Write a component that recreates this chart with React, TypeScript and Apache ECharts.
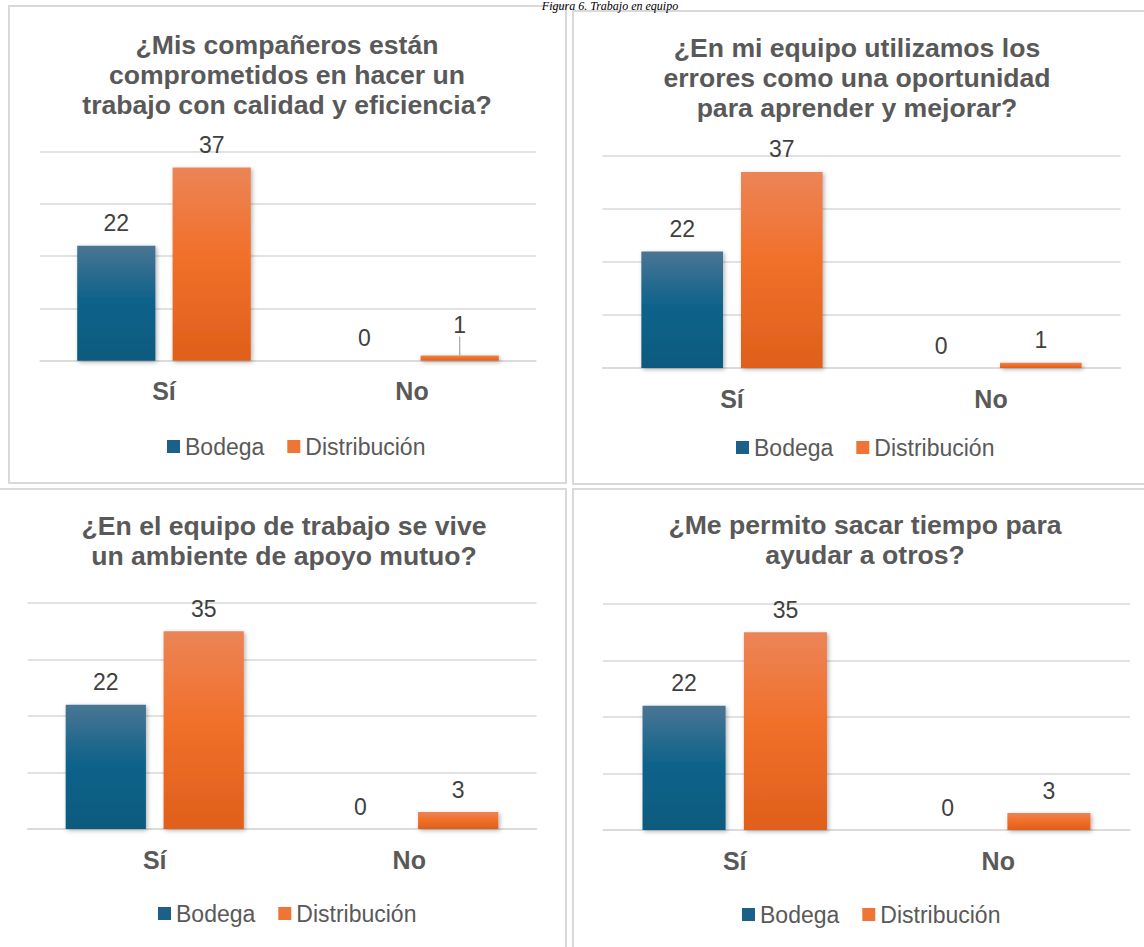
import React, { useEffect, useRef } from "react";
import * as echarts from "echarts";

const categories = ["Sí", "No"];
const seriesNames = ["Bodega", "Distribución"];
const caption = "Figura 6. Trabajo en equipo";

const titles = [
  "¿Mis compañeros están\ncomprometidos en hacer un\ntrabajo con calidad y eficiencia?",
  "¿En mi equipo utilizamos los\nerrores como una oportunidad\npara aprender y mejorar?",
  "¿En el equipo de trabajo se vive\nun ambiente de apoyo mutuo?",
  "¿Me permito sacar tiempo para\nayudar a otros?",
];

const q1Bodega = [22, 0];
const q1Distribucion = [37, 1];
const q2Bodega = [22, 0];
const q2Distribucion = [37, 1];
const q3Bodega = [22, 0];
const q3Distribucion = [35, 3];
const q4Bodega = [22, 0];
const q4Distribucion = [35, 3];

const bodegaValues = [q1Bodega, q2Bodega, q3Bodega, q4Bodega];
const distribucionValues = [q1Distribucion, q2Distribucion, q3Distribucion, q4Distribucion];

const axisMax = 40;
const axisInterval = 10;

// layout (pixels)
const layouts = [
  { grid: { left: 40, top: 151.7, width: 496, height: 209 }, title: { x: 287, y: 30 }, legend: { left: 162, top: 430 }, border: { x: 9, y: 6, w: 557, h: 477 }, leader: true },
  { grid: { left: 602.5, top: 156, width: 518, height: 212 }, title: { x: 857, y: 33 }, legend: { left: 731, top: 431 }, border: { x: 573, y: 11, w: 620, h: 473 }, leader: false },
  { grid: { left: 27.5, top: 603, width: 509, height: 226 }, title: { x: 284, y: 511 }, legend: { left: 153, top: 897 }, border: { x: -20, y: 489, w: 586, h: 520 }, leader: false },
  { grid: { left: 603, top: 604, width: 527, height: 226 }, title: { x: 865, y: 510 }, legend: { left: 737, top: 898 }, border: { x: 573, y: 489, w: 620, h: 520 }, leader: false },
];

const blueGrad = () =>
  new echarts.graphic.LinearGradient(0, 0, 0, 1, [
    { offset: 0, color: "#4a7594" },
    { offset: 0.45, color: "#11638b" },
    { offset: 1, color: "#0c5a7e" },
  ]);
const orangeGrad = () =>
  new echarts.graphic.LinearGradient(0, 0, 0, 1, [
    { offset: 0, color: "#ec8457" },
    { offset: 0.45, color: "#f1702b" },
    { offset: 1, color: "#df5f1b" },
  ]);

export default function App() {
  const ref = useRef<HTMLDivElement>(null);
  useEffect(() => {
    if (!ref.current) return;
    const chart = echarts.init(ref.current, null, { renderer: "svg" });

    const grids: any[] = [];
    const xAxes: any[] = [];
    const yAxes: any[] = [];
    const series: any[] = [];
    const legends: any[] = [];
    const graphics: any[] = [];

    graphics.push({
      type: "text",
      x: 610,
      y: 0,
      style: {
        text: caption,
        font: "italic 12px 'Liberation Serif', serif",
        fill: "#000",
        textAlign: "center",
        textVerticalAlign: "top",
      },
    });

    layouts.forEach((l, i) => {
      graphics.push({
        type: "rect",
        shape: { x: l.border.x, y: l.border.y, width: l.border.w, height: l.border.h },
        style: { fill: "none", stroke: "#d9d9d9", lineWidth: 2 },
        z: -1,
      });
      graphics.push({
        type: "text",
        x: l.title.x,
        y: l.title.y,
        style: {
          text: titles[i],
          font: "bold 26.6px 'Liberation Sans', Arial, sans-serif",
          fill: "#595959",
          textAlign: "center",
          textVerticalAlign: "top",
          lineHeight: 30,
        },
      });

      grids.push({ left: l.grid.left, top: l.grid.top, width: l.grid.width, height: l.grid.height, containLabel: false });
      xAxes.push({
        type: "category",
        gridIndex: i,
        data: categories,
        axisLine: { show: true, lineStyle: { color: "#d9d9d9", width: 1.5 } },
        axisTick: { show: false },
        axisLabel: {
          margin: 18,
          fontFamily: "'Liberation Sans', Arial, sans-serif",
          fontWeight: "bold",
          fontSize: 25,
          color: "#595959",
        },
      });
      yAxes.push({
        type: "value",
        gridIndex: i,
        min: 0,
        max: axisMax,
        interval: axisInterval,
        axisLabel: { show: false },
        axisLine: { show: false },
        axisTick: { show: false },
        splitLine: { show: true, lineStyle: { color: "#d9d9d9", width: 1.5 } },
      });

      const labelCfg = {
        show: true,
        position: "top",
        distance: 11,
        fontFamily: "'Liberation Sans', Arial, sans-serif",
        fontSize: 23,
        color: "#404040",
      };
      const shadow = {
        shadowBlur: 4,
        shadowColor: "rgba(0,0,0,0.3)",
        shadowOffsetX: 1.5,
        shadowOffsetY: 1.5,
      };

      series.push({
        type: "bar",
        name: seriesNames[0],
        xAxisIndex: i,
        yAxisIndex: i,
        data: bodegaValues[i],
        barCategoryGap: "30%",
        barGap: "22%",
        itemStyle: { color: blueGrad(), ...shadow },
        label: labelCfg,
      });
      const s2: any = {
        type: "bar",
        name: seriesNames[1],
        xAxisIndex: i,
        yAxisIndex: i,
        data: l.leader
          ? distribucionValues[i].map((v, k) =>
              k === 1
                ? { value: v, labelLine: { show: true, length2: 0, lineStyle: { color: "#a6a6a6", width: 1.2 } } }
                : { value: v, labelLine: { show: false } }
            )
          : distribucionValues[i],
        barCategoryGap: "30%",
        barGap: "22%",
        itemStyle: { color: orangeGrad(), ...shadow },
        label: labelCfg,
      };
      if (l.leader) {
        s2.labelLayout = (p: any) => (p.dataIndex === 1 ? { dy: -8 } : {});
      }
      series.push(s2);

      legends.push({
        left: l.legend.left,
        top: l.legend.top,
        orient: "horizontal",
        itemWidth: 13,
        itemHeight: 13,
        itemGap: 23,
        icon: "rect",
        textStyle: {
          fontFamily: "'Liberation Sans', Arial, sans-serif",
          fontSize: 23,
          color: "#595959",
        },
        data: [
          { name: seriesNames[0], itemStyle: { color: "#1a6088" } },
          { name: seriesNames[1], itemStyle: { color: "#ee7536" } },
        ],
        selectedMode: false,
      });
    });

    chart.setOption({
      animation: false,
      backgroundColor: "#ffffff",
      grid: grids,
      xAxis: xAxes,
      yAxis: yAxes,
      series,
      legend: legends,
      graphic: graphics,
    });
    return () => chart.dispose();
  }, []);

  return (
    <div
      ref={ref}
      style={{ position: "absolute", left: 0, top: 0, width: 1144, height: 947 }}
    />
  );
}
